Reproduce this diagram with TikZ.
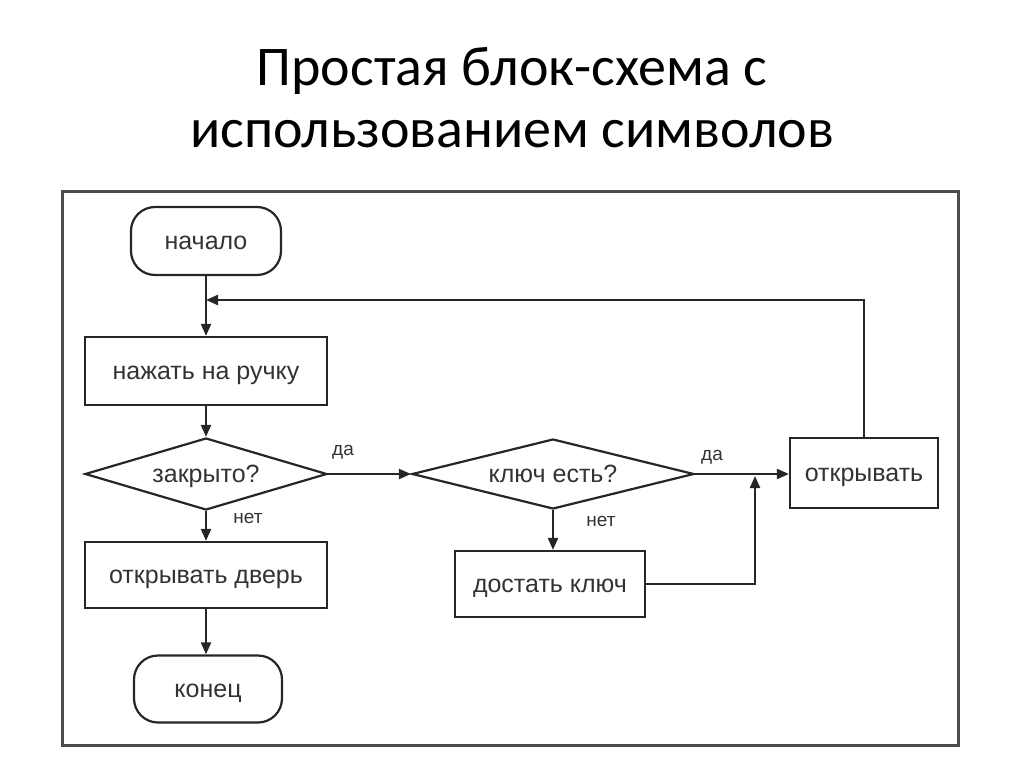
\documentclass[tikz,border=0pt]{standalone}
\usepackage{fontspec}
\setmainfont{Liberation Sans}
\newfontfamily\titlefont{Carlito}
\usetikzlibrary{shapes.geometric,arrows.meta}
\definecolor{ink}{HTML}{262626}
\definecolor{txt}{HTML}{333333}
\begin{document}
\begin{tikzpicture}[x=1pt,y=-1pt,
  every node/.style={text=txt},
  blk/.style={draw=ink, line width=2.2pt, rectangle, inner sep=0pt, text height=16pt, text depth=0pt, font=\fontsize{25}{28}\selectfont},
  term/.style={blk, rounded corners=24pt},
  dec/.style={draw=ink, line width=2.2pt, diamond, aspect=3.4, inner sep=0pt, text height=16pt, text depth=0pt, font=\fontsize{25}{28}\selectfont},
  lbl/.style={font=\fontsize{19}{22}\selectfont, inner sep=0pt},
  arr/.style={draw=ink, line width=2.2pt, -{Triangle[length=12pt,width=10pt]}},
  ttl/.style={font=\titlefont\fontsize{56}{62}\selectfont, text=black, align=center}
]
\useasboundingbox (0,0) rectangle (1024,767);
\node[ttl] (title) at (512,98) {Простая блок-схема с\\использованием символов};
\draw[gray!60!black, line width=3pt] (62,192) rectangle (958,745);

\node[term, minimum width=150pt, minimum height=68pt] (start) at (206,241) {начало};
\node[blk, minimum width=242pt, minimum height=68pt] (push) at (206,371) {нажать на ручку};
\node[dec, minimum width=242pt, minimum height=72pt] (closed) at (206,474) {закрыто?};
\node[blk, minimum width=242pt, minimum height=66pt] (opendoor) at (206,575) {открывать дверь};
\node[term, minimum width=148pt, minimum height=67pt] (end) at (208,689) {конец};
\node[dec, minimum width=282pt, minimum height=70pt] (key) at (553,474) {ключ есть?};
\node[blk, minimum width=190pt, minimum height=66pt] (getkey) at (550,584) {достать ключ};
\node[blk, minimum width=148pt, minimum height=70pt] (open) at (864,473) {открывать};

\coordinate (loop) at (206,300);
\coordinate (join) at (755,476);

\draw[arr] (start) -- (push);
\draw[arr] (push) -- (closed);
\draw[arr] (closed.east) -- (key.west);
\draw[arr] (closed.south) -- (opendoor.north);
\draw[arr] (opendoor.south) -- (opendoor.south |- end.north);
\draw[arr] (key.south) -- (key.south |- getkey.north);
\draw[arr] (key.east) -- (open.west |- key.east);
\draw[arr] (getkey.east) -| (join);
\draw[arr] (open.north) |- (loop);

\node[lbl] (yes1) at (343,452) {да};
\node[lbl] (no1) at (248,518) {нет};
\node[lbl] (yes2) at (712,457) {да};
\node[lbl] (no2) at (601,521) {нет};
\end{tikzpicture}
\end{document}
